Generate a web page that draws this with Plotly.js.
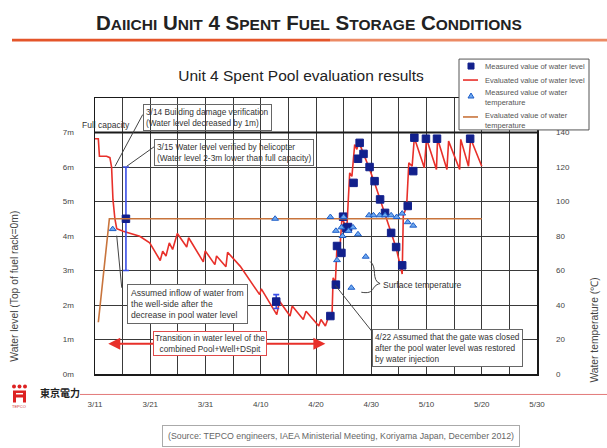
<!DOCTYPE html>
<html>
<head>
<meta charset="utf-8">
<script src="https://cdn.plot.ly/plotly-3.0.1.min.js"></script>
<style>
html,body{margin:0;padding:0;background:#fff;}
#chart{width:607px;height:448px;}
</style>
</head>
<body>
<div id="chart"></div>
<script>
// ---- Data (days since 3/11/2011) ----
const tickDays = [0,5,10,15,20,25,30,35,40,45,50,55,60,65,70,75,80];
const tickLabels = ['3/11','','3/21','','3/31','','4/10','','4/20','','4/30','','5/10','','5/20','','5/30'];
const levelTicks = [0,1,2,3,4,5,6,7];
const levelTickText = ['0m','1m','2m','3m','4m','5m','6m','7m'];
const tempTicks = [0,20,40,60,80,100,120,140];

const evalLevelDays = [0,0.6,0.8,2.1,2.7,3.0,3.25,3.6,3.93,5.1,8.1,9.9,11.8,12.25,12.85,13.45,14.05,14.9,16.6,16.95,19.6,19.95,21.7,22.0,23.7,24.0,26.3,28.1,29.8,30.1,32.9,33.4,35.3,35.7,37.7,38.2,40.5,40.9,41.7,42.0,42.3,42.9,43.1,43.5,43.8,44.3,44.7,45.3,45.6,46.1,46.5,47.0,47.4,47.7,48.6,49.6,50.6,51.6,52.5,53.6,54.5,55.6,55.8,56.4,56.8,57.4,57.8,59.6,60.0,61.8,62.0,63.7,64.0,66.0,66.2,67.6,68.0,70.0];
const evalLevelVals = [6.82,6.82,6.31,6.31,6.27,6.0,5.06,4.5,4.21,4.14,3.99,3.80,3.29,3.56,3.42,3.80,3.61,4.07,3.68,3.95,3.25,3.57,3.17,3.42,3.11,3.53,3.12,2.69,2.30,2.47,1.72,2.11,1.68,1.97,1.58,1.82,1.39,1.58,1.39,1.53,1.68,1.70,2.79,2.64,3.70,3.56,4.53,4.30,4.28,5.83,5.73,6.65,6.51,6.75,6.41,5.98,5.54,5.06,4.67,4.09,3.66,2.90,4.60,4.85,6.12,6.02,6.85,5.98,6.82,5.93,6.82,5.93,6.75,5.93,6.80,6.02,6.82,6.02];

const measLevelDays = [5.6,32.8,42.6,43.6,43.8,44.6,44.9,45.5,45.8,46.8,47.6,47.9,48.6,49.7,50.6,51.6,52.5,53.6,54.5,55.6,56.6,57.6,57.8,59.9,61.9,67.9];
const measLevelVals = [4.5,2.1,1.68,2.59,3.71,3.51,4.56,4.22,4.26,5.54,6.24,6.70,6.38,6.0,5.59,5.06,4.67,4.09,3.68,3.15,4.87,5.88,6.85,6.82,6.82,6.82];
const measLevelErr = [1.5,0.2,0,0,0,0,0,0,0,0,0,0,0,0,0,0,0,0,0,0,0,0,0,0,0,0];

const measTempDays = [3.2,32.6,42.6,43.6,43.8,44.6,44.8,45.0,45.9,46.4,46.7,47.6,49.0,49.6,50.4,51.5,52.5,53.6,54.6,55.6,56.6,57.6];
const measTempVals = [84,90,91,83,66,85,80,91,83,50,85,81,68,92,92,92,92,92,91,93,88,86];

const evalTempDays = [0.6,2.6,70];
const evalTempVals = [30,90,90];

const seriesNames = ['Measured value of water level','Evaluated value of water level','Measured value of water<br>temperature','Evaluated value of water<br>temperature'];

// ---- layout helpers (pixel -> paper) ----
const L=95, R=537, T=98, B=374.5;
const px2x = px => (px-L)/(R-L);
const py2y = py => (B-py)/(B-T);
const FONT = 'Liberation Sans, Arial, Helvetica, sans-serif';
const GRID = '#3a3a3a';
const RED = '#e8302a';
const NAVY = '#12208c';
const BROWN = '#c8743c';
const TRI_FILL = '#6ea8f0', TRI_LINE = '#1f5fc8';

const traces = [
  {x: evalLevelDays, y: evalLevelVals, type:'scatter', mode:'lines', name:seriesNames[1],
   line:{color:RED, width:1.6}},
  {x: evalTempDays, y: evalTempVals, type:'scatter', mode:'lines', yaxis:'y2', name:seriesNames[3],
   line:{color:BROWN, width:1.6}},
  {x: measTempDays, y: measTempVals, type:'scatter', mode:'markers', yaxis:'y2', name:seriesNames[2],
   marker:{symbol:'triangle-up', size:6, color:TRI_FILL, line:{color:TRI_LINE, width:1}}},
  {x: measLevelDays, y: measLevelVals, type:'scatter', mode:'markers', name:seriesNames[0],
   marker:{symbol:'square', size:7.5, color:NAVY, line:{color:NAVY, width:1}},
   error_y:{type:'data', array: measLevelErr, visible:true, color:'#3b4fe6', thickness:1.6, width:3}}
];

const sc = (s) => "<span style='font-size:15.5px'>"+s+"</span>";
const header = '<b>D'+sc('AIICHI')+' U'+sc('NIT')+' 4 S'+sc('PENT')+' F'+sc('UEL')+' S'+sc('TORAGE')+' C'+sc('ONDITIONS')+'</b>';

const legFont = {family:FONT, size:7.5, color:'#555'};
const annotations = [
  {xref:'paper', yref:'paper', x:px2x(309), y:py2y(22), text:header, showarrow:false,
   font:{family:FONT, size:20.5, color:'#222'}, xanchor:'center', yanchor:'middle'},
  {xref:'paper', yref:'paper', x:px2x(106), y:py2y(125), text:'Full capacity', showarrow:false,
   font:{family:FONT, size:8.5, color:'#333'}, xanchor:'center', yanchor:'middle'},
  {xref:'paper', yref:'paper', x:px2x(142.7), y:py2y(104), text:'3/14 Building damage verification<br>(Water level decreased by 1m)',
   showarrow:false, align:'left', xanchor:'left', yanchor:'top', bordercolor:'#666', borderwidth:1, borderpad:2,
   font:{family:FONT, size:8.3, color:'#333'}},
  {xref:'paper', yref:'paper', x:px2x(154.3), y:py2y(139.5), text:'3/15 Water level verified by helicopter<br>(Water level 2-3m lower than full capacity)',
   showarrow:false, align:'left', xanchor:'left', yanchor:'top', bordercolor:'#666', borderwidth:1, borderpad:2,
   font:{family:FONT, size:8.3, color:'#333'}},
  {xref:'paper', yref:'paper', x:px2x(126.7), y:py2y(284.5), text:'Assumed inflow of water from<br>the well-side after the<br>decrease in pool water level',
   showarrow:false, align:'left', xanchor:'left', yanchor:'top', bordercolor:'#666', borderwidth:1, borderpad:3, bgcolor:'#fff',
   font:{family:FONT, size:8.6, color:'#333'}},
  {xref:'x', yref:'y', axref:'x', ayref:'y', x:2.4, y:0.875, ax:22, ay:0.875, text:'', showarrow:true,
   arrowhead:2, arrowsize:1.2, arrowwidth:2, arrowcolor:RED},
  {xref:'x', yref:'y', axref:'x', ayref:'y', x:41.7, y:0.875, ax:22, ay:0.875, text:'', showarrow:true,
   arrowhead:2, arrowsize:1.2, arrowwidth:2, arrowcolor:RED},
  {xref:'paper', yref:'paper', x:px2x(210), y:py2y(331.5), text:'Transition in water level of the<br>combined Pool+Well+DSpit',
   showarrow:false, align:'center', xanchor:'center', yanchor:'top', bordercolor:'#e04a4a', borderwidth:1, borderpad:1, bgcolor:'#fff',
   font:{family:FONT, size:8.3, color:'#333'}},
  {xref:'paper', yref:'paper', x:px2x(371.7), y:py2y(329.5), text:'4/22 Assumed that the gate was closed<br>after the pool water level was restored<br>by water injection',
   showarrow:false, align:'left', xanchor:'left', yanchor:'top', bordercolor:'#666', borderwidth:1, borderpad:2, bgcolor:'#fff',
   font:{family:FONT, size:8.3, color:'#333'}},
  {xref:'paper', yref:'paper', x:px2x(381), y:py2y(285), text:'Surface temperature', showarrow:false,
   xanchor:'left', yanchor:'middle', font:{family:FONT, size:8.6, color:'#333'}},
  {xref:'paper', yref:'paper', x:px2x(15), y:py2y(287), text:'Water level (Top of fuel rack=0m)', textangle:-90, showarrow:false,
   xanchor:'center', yanchor:'middle', font:{family:FONT, size:10.3, color:'#444'}},
  {xref:'paper', yref:'paper', x:px2x(595), y:py2y(331), text:'Water temperature (℃)', textangle:-90, showarrow:false,
   xanchor:'center', yanchor:'middle', font:{family:FONT, size:10.3, color:'#444'}},
  {xref:'paper', yref:'paper', x:px2x(38), y:py2y(393), text:'<b>東京電力</b>', showarrow:false,
   xanchor:'left', yanchor:'middle', font:{family:'Noto Sans CJK JP, sans-serif', size:10, color:'#222'}},
  {xref:'paper', yref:'paper', x:px2x(19), y:py2y(407), text:'TEPCO', showarrow:false,
   xanchor:'center', yanchor:'middle', font:{family:FONT, size:4, color:'#c33'}},
  {xref:'paper', yref:'paper', x:px2x(341), y:py2y(437), text:'(Source: TEPCO engineers, IAEA Ministerial Meeting, Koriyama Japan, December 2012)',
   showarrow:false, xanchor:'center', yanchor:'middle', bordercolor:'#aaa', borderwidth:1, borderpad:5,
   font:{family:FONT, size:8.8, color:'#666'}},
  // legend texts
  {xref:'paper', yref:'paper', x:px2x(483), y:py2y(66), text:seriesNames[0], showarrow:false, xanchor:'left', yanchor:'middle', font:legFont},
  {xref:'paper', yref:'paper', x:px2x(483), y:py2y(80), text:seriesNames[1], showarrow:false, xanchor:'left', yanchor:'middle', font:legFont},
  {xref:'paper', yref:'paper', x:px2x(483), y:py2y(97), text:seriesNames[2], showarrow:false, xanchor:'left', yanchor:'middle', align:'left', font:legFont},
  {xref:'paper', yref:'paper', x:px2x(483), y:py2y(121), text:seriesNames[3], showarrow:false, xanchor:'left', yanchor:'middle', align:'left', font:legFont}
];

const P = (px,py) => px2x(px)+' '+py2y(py);
const shapes = [
  {type:'line', xref:'x', yref:'y', x0:0, x1:80, y0:7, y1:7, line:{color:'#1a1a1a', width:2.2}},
  {type:'line', xref:'x', yref:'y', x0:3.62, y0:6.02, x1:8.64, y1:7.52, line:{color:'#444', width:1}},
  {type:'line', xref:'x', yref:'y', x0:5.74, y0:6.02, x1:10.74, y1:6.59, line:{color:'#444', width:1}},
  {type:'line', xref:'x', yref:'y', x0:3.93, y0:4.01, x1:4.84, y1:2.50, line:{color:'#444', width:1}},
  {type:'line', xref:'x', yref:'y', x0:43.5, y0:2.57, x1:50.1, y1:1.24, line:{color:'#444', width:1}},
  {type:'path', xref:'x', yref:'y', path:'M 49.8 3.26 C 51.2 3.1 49.9 2.72 51.6 2.62 C 49.8 2.56 50.9 2.3 48.2 2.37', line:{color:'#444', width:1}},
  // header / footer decoration
  {type:'line', xref:'paper', yref:'paper', x0:px2x(12), x1:px2x(330), y0:py2y(40), y1:py2y(40), line:{color:'#e4552a', width:2.6}},
  {type:'line', xref:'paper', yref:'paper', x0:px2x(330), x1:px2x(607), y0:py2y(40), y1:py2y(40), line:{color:'#ec8a64', width:2.6}},
  {type:'line', xref:'paper', yref:'paper', x0:px2x(80), x1:px2x(607), y0:py2y(395), y1:py2y(395), line:{color:'#e27a7a', width:1}},
  {type:'circle', xref:'paper', yref:'paper', x0:px2x(12), x1:px2x(16), y0:py2y(389), y1:py2y(385), fillcolor:'#d22', line:{width:0}},
  {type:'circle', xref:'paper', yref:'paper', x0:px2x(17.5), x1:px2x(21.5), y0:py2y(389), y1:py2y(385), fillcolor:'#d22', line:{width:0}},
  {type:'circle', xref:'paper', yref:'paper', x0:px2x(23), x1:px2x(27), y0:py2y(389), y1:py2y(385), fillcolor:'#d22', line:{width:0}},
  {type:'path', xref:'paper', yref:'paper',
   path:'M '+P(13,391)+' L '+P(26,391)+' L '+P(26,403)+' L '+P(23,403)+' L '+P(23,398)+' L '+P(16,398)+' L '+P(16,403)+' L '+P(13,403)+' Z',
   fillcolor:'#d22', line:{width:0}},
  {type:'rect', xref:'paper', yref:'paper', x0:px2x(16), x1:px2x(23), y0:py2y(395), y1:py2y(393.5), fillcolor:'#fff', line:{width:0}},
  // legend box and symbols
  {type:'rect', xref:'paper', yref:'paper', x0:px2x(459), x1:px2x(589), y0:py2y(130), y1:py2y(59), fillcolor:'#fff', line:{color:'#555', width:1}, layer:'above'},
  {type:'rect', xref:'paper', yref:'paper', x0:px2x(468), x1:px2x(474), y0:py2y(69), y1:py2y(63), fillcolor:NAVY, line:{color:NAVY, width:1}},
  {type:'line', xref:'paper', yref:'paper', x0:px2x(463), x1:px2x(478), y0:py2y(80), y1:py2y(80), line:{color:RED, width:1.6}},
  {type:'path', xref:'paper', yref:'paper', path:'M '+P(468,98)+' L '+P(474,98)+' L '+P(471,93)+' Z', fillcolor:TRI_FILL, line:{color:TRI_LINE, width:1}},
  {type:'line', xref:'paper', yref:'paper', x0:px2x(463), x1:px2x(478), y0:py2y(117), y1:py2y(117), line:{color:BROWN, width:1.6}}
];

const layout = {
  width:607, height:448,
  margin:{l:L, r:607-R, t:T, b:448-B, pad:0},
  paper_bgcolor:'#fff', plot_bgcolor:'#fff',
  font:{family:FONT, color:'#444'},
  showlegend:false,
  title:{text:'Unit 4 Spent Pool evaluation results', font:{family:FONT, size:15.5, color:'#222'},
         xref:'paper', x:px2x(301), xanchor:'center', yref:'container', y:1-76/448, yanchor:'middle'},
  xaxis:{range:[0,80], tickmode:'array', tickvals:tickDays, ticktext:tickLabels, showgrid:true, gridcolor:GRID, gridwidth:1,
         showline:true, mirror:true, linecolor:'#1a1a1a', linewidth:1.5, zeroline:false, ticks:'', ticklabelstandoff:22,
         tickfont:{family:FONT, size:8, color:'#444'}, fixedrange:true},
  yaxis:{range:[0,8], tickmode:'array', tickvals:levelTicks, ticktext:levelTickText, showgrid:true, gridcolor:GRID, gridwidth:1,
         showline:true, mirror:true, linecolor:'#1a1a1a', linewidth:1.5, zeroline:false, ticks:'', ticklabelstandoff:18,
         tickfont:{family:FONT, size:8, color:'#444'}},
  yaxis2:{range:[0,160], overlaying:'y', side:'right', tickmode:'array', tickvals:tempTicks, showgrid:false, zeroline:false,
          showline:false, ticks:'', ticklabelstandoff:18, tickfont:{family:FONT, size:8, color:'#444'}},
  annotations: annotations,
  shapes: shapes
};

Plotly.newPlot('chart', traces, layout, {staticPlot:true, displayModeBar:false});
</script>
</body>
</html>
